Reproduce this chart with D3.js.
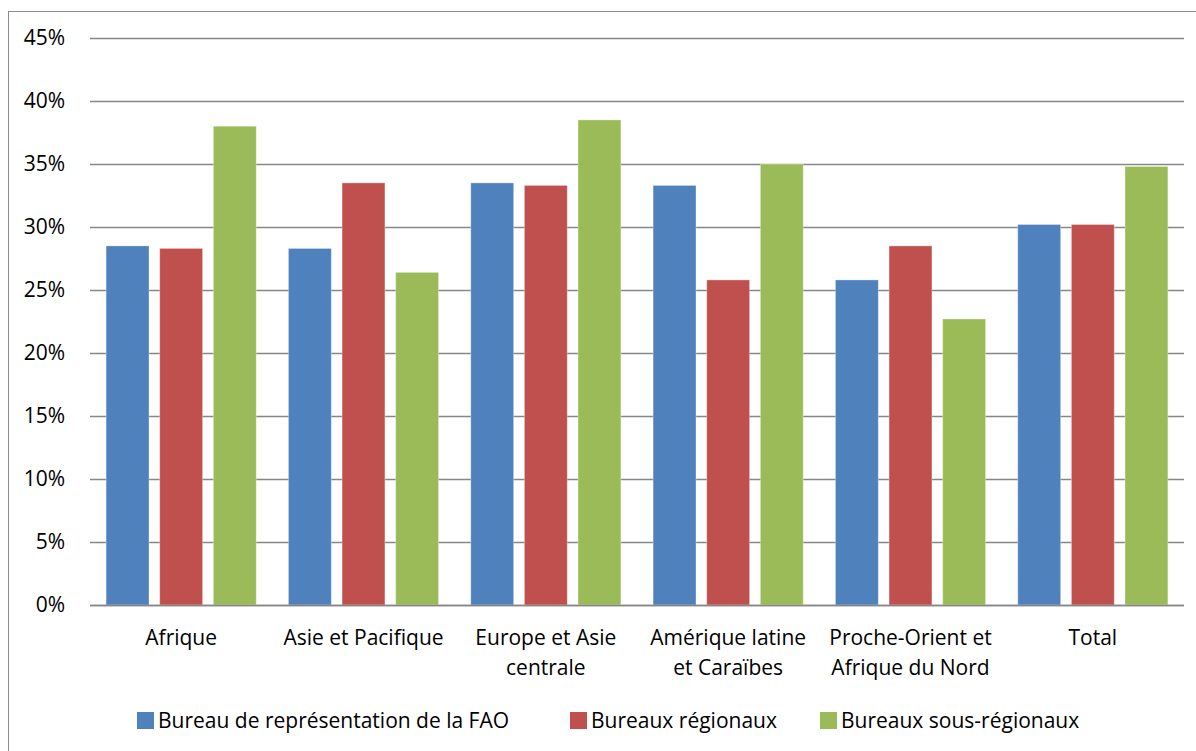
<!DOCTYPE html>
<html>
<head>
<meta charset="utf-8">
<script src="https://cdn.jsdelivr.net/npm/d3@7"></script>
<style>
  html, body { margin: 0; padding: 0; background: #fff; }
  svg { display: block; font-family: "Open Sans", sans-serif; }
</style>
</head>
<body>
<svg id="chart" width="1196" height="751"></svg>
<script>
// Regions (category labels, split into lines)
const categories = [
  ["Afrique"],
  ["Asie et Pacifique"],
  ["Europe et Asie", "centrale"],
  ["Amérique latine", "et Caraïbes"],
  ["Proche-Orient et", "Afrique du Nord"],
  ["Total"]
];
const seriesNames = [
  "Bureau de représentation de la FAO",
  "Bureaux régionaux",
  "Bureaux sous-régionaux"
];
const seriesColors = ["#4F81BD", "#C0504D", "#9BBB59"];

// Percentages per series, one value per region
const bureauFAO = [28.5, 28.3, 33.5, 33.3, 25.8, 30.2];
const bureauxRegionaux = [28.3, 33.5, 33.3, 25.8, 28.5, 30.2];
const bureauxSousRegionaux = [38.0, 26.4, 38.5, 35.0, 22.7, 34.8];

const yTicks = [0, 5, 10, 15, 20, 25, 30, 35, 40, 45];

const series = [bureauFAO, bureauxRegionaux, bureauxSousRegionaux];
const catKeys = categories.map(c => c.join(" "));

const svg = d3.select("#chart");

// Outer chart frame
svg.append("rect")
  .attr("x", 8.5).attr("y", 11.5)
  .attr("width", 1200).attr("height", 760)
  .attr("fill", "#fff")
  .attr("stroke", "#8c8c8c")
  .attr("stroke-width", 1);

const plot = { left: 90, right: 1184, top: 38, bottom: 605 };

const x0 = d3.scaleBand()
  .domain(catKeys)
  .range([plot.left, plot.right])
  .paddingInner(0).paddingOuter(0);

const x1 = d3.scaleBand()
  .domain(d3.range(series.length))
  .range([0, x0.bandwidth()])
  .paddingInner(0.2)
  .paddingOuter(0.3);

const y = d3.scaleLinear()
  .domain([0, 45])
  .range([plot.bottom, plot.top]);

// Horizontal gridlines
svg.append("g")
  .selectAll("line")
  .data(yTicks)
  .join("line")
  .attr("x1", plot.left).attr("x2", plot.right)
  .attr("y1", d => Math.round(y(d)) + 0.5)
  .attr("y2", d => Math.round(y(d)) + 0.5)
  .attr("stroke", "#878787")
  .attr("stroke-width", 1.4);

// Y axis labels
const yAxis = d3.axisLeft(y)
  .tickValues(yTicks)
  .tickFormat(d => d + "%")
  .tickSize(0)
  .tickPadding(0);

const yg = svg.append("g")
  .attr("transform", `translate(65,0)`)
  .call(yAxis);
yg.select(".domain").remove();
yg.selectAll("text")
  .attr("font-family", "Open Sans, sans-serif")
  .attr("font-size", 21)
  .attr("fill", "#000");

// Bars
const groups = svg.append("g")
  .selectAll("g")
  .data(catKeys)
  .join("g")
  .attr("transform", d => `translate(${x0(d)},0)`);

groups.selectAll("rect")
  .data((d, i) => series.map((s, j) => ({ s: j, v: s[i] })))
  .join("rect")
  .attr("x", d => x1(d.s))
  .attr("y", d => y(d.v))
  .attr("width", x1.bandwidth())
  .attr("height", d => y(0) - y(d.v))
  .attr("fill", d => seriesColors[d.s])
  .attr("stroke", "rgba(255,255,255,0.35)")
  .attr("stroke-width", 1);

// Baseline
svg.append("line")
  .attr("x1", plot.left).attr("x2", plot.right)
  .attr("y1", Math.round(y(0)) + 0.5).attr("y2", Math.round(y(0)) + 0.5)
  .attr("stroke", "#878787")
  .attr("stroke-width", 1.4);

// Category labels
const xAxis = d3.axisBottom(x0).tickSize(0).tickFormat("");
const xg = svg.append("g")
  .attr("transform", `translate(0,${plot.bottom})`)
  .call(xAxis);
xg.select(".domain").remove();

svg.append("g")
  .selectAll("text")
  .data(categories)
  .join("text")
  .attr("x", (d, i) => x0(catKeys[i]) + x0.bandwidth() / 2)
  .attr("y", 645)
  .attr("text-anchor", "middle")
  .attr("font-size", 21)
  .attr("fill", "#000")
  .selectAll("tspan")
  .data(d => d)
  .join("tspan")
  .attr("x", function () { return d3.select(this.parentNode).attr("x"); })
  .attr("dy", (d, i) => i === 0 ? 0 : 30)
  .text(d => d);

// Legend
const legendX = [137, 570, 820];
const legend = svg.append("g")
  .selectAll("g")
  .data(seriesNames)
  .join("g")
  .attr("transform", (d, i) => `translate(${legendX[i]},712)`);

legend.append("rect")
  .attr("width", 17).attr("height", 17)
  .attr("fill", (d, i) => seriesColors[i]);

legend.append("text")
  .attr("x", 21)
  .attr("y", 15.5)
  .attr("font-size", 21)
  .attr("fill", "#000")
  .text(d => d);
</script>
</body>
</html>
